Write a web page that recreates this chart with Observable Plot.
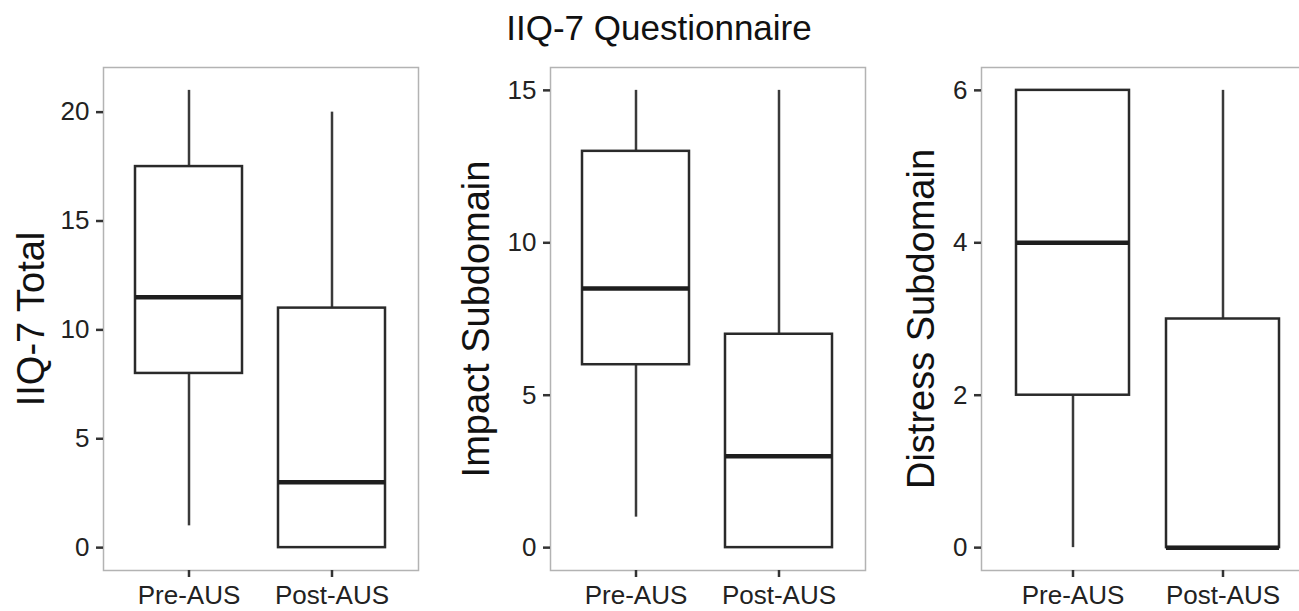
<!DOCTYPE html>
<html>
<head>
<meta charset="utf-8">
<script src="https://cdn.jsdelivr.net/npm/d3@7"></script>
<script src="https://cdn.jsdelivr.net/npm/@observablehq/plot@0.6"></script>
<style>
  body { margin: 0; background: #fff; font-family: "Liberation Sans", Arial, sans-serif; }
  #wrap { position: relative; width: 1299px; height: 611px; overflow: hidden; background: #fff; }
  #title { position: absolute; top: 10px; left: 0; width: 1318px; text-align: center; font-size: 35px; line-height: 35px; color: #111; }
  .panel { position: absolute; top: 55px; }
</style>
</head>
<body>
<div id="wrap"><div id="title">IIQ-7 Questionnaire</div></div>
<script>
// Categories
const groups = ["Pre-AUS", "Post-AUS"];

// IIQ-7 Total: [Pre, Post]
const totalLow    = [1, 0];
const totalQ1     = [8, 0];
const totalMedian = [11.5, 3];
const totalQ3     = [17.5, 11];
const totalHigh   = [21, 20];
const totalTicks  = [0, 5, 10, 15, 20];

// Impact Subdomain
const impactLow    = [1, 0];
const impactQ1     = [6, 0];
const impactMedian = [8.5, 3];
const impactQ3     = [13, 7];
const impactHigh   = [15, 15];
const impactTicks  = [0, 5, 10, 15];

// Distress Subdomain
const distressLow    = [0, 0];
const distressQ1     = [2, 0];
const distressMedian = [4, 0];
const distressQ3     = [6, 3];
const distressHigh   = [6, 6];
const distressTicks  = [0, 2, 4, 6];

const wrap = document.getElementById("wrap");

function panel(cfg) {
  const rows = groups.map((g, i) => ({
    g, low: cfg.low[i], q1: cfg.q1[i], med: cfg.med[i], q3: cfg.q3[i], high: cfg.high[i]
  }));
  const lo = d3.min(cfg.low), hi = d3.max(cfg.high), pad = (hi - lo) * 0.05;
  const chart = Plot.plot({
    width: cfg.width,
    height: 556,
    marginLeft: cfg.ml,
    marginRight: cfg.mr,
    marginTop: 12,
    marginBottom: 41,
    style: { background: "transparent", fontFamily: "Liberation Sans, Arial, sans-serif", overflow: "visible" },
    x: { type: "band", domain: groups, paddingInner: 0.25, paddingOuter: 0.225 },
    y: { domain: [lo - pad, hi + pad] },
    marks: [
      Plot.frame({ stroke: "#b3b3b3", strokeWidth: 1.5 }),
      Plot.ruleX(rows, { x: "g", y1: "q3", y2: "high", stroke: "#3a3a3a", strokeWidth: 2.5 }),
      Plot.ruleX(rows, { x: "g", y1: "low", y2: "q1", stroke: "#3a3a3a", strokeWidth: 2.5 }),
      Plot.barY(rows, { x: "g", y1: "q1", y2: "q3", fill: "white", stroke: "#2a2a2a", strokeWidth: 2.5 }),
      Plot.tickY(rows, { x: "g", y: "med", stroke: "#1e1e1e", strokeWidth: 4.5 }),
      Plot.axisX({ tickSize: 7, tickPadding: 8, fontSize: 26, label: null, stroke: "#333", strokeWidth: 2.5, fill: "#222" }),
      Plot.axisY({ ticks: cfg.ticks, tickFormat: d3.format("d"), tickSize: 7, tickPadding: 7, fontSize: 26, label: null, stroke: "#333", strokeWidth: 2.5, fill: "#222" }),
      Plot.text([cfg.label], { frameAnchor: "left", textAnchor: "middle", rotate: -90, dx: cfg.labelDx, fontSize: 38, fill: "#111" })
    ]
  });
  chart.classList.add("panel");
  chart.style.left = cfg.left + "px";
  wrap.appendChild(chart);
}

panel({ label: "IIQ-7 Total", low: totalLow, q1: totalQ1, med: totalMedian, q3: totalQ3, high: totalHigh,
        ticks: totalTicks, left: 0, width: 433, ml: 103, mr: 15, labelDx: -72 });
panel({ label: "Impact Subdomain", low: impactLow, q1: impactQ1, med: impactMedian, q3: impactQ3, high: impactHigh,
        ticks: impactTicks, left: 433, width: 440, ml: 117, mr: 8, labelDx: -74 });
panel({ label: "Distress Subdomain", low: distressLow, q1: distressQ1, med: distressMedian, q3: distressQ3, high: distressHigh,
        ticks: distressTicks, left: 873, width: 450, ml: 108, mr: 10, labelDx: -60 });
</script>
</body>
</html>
